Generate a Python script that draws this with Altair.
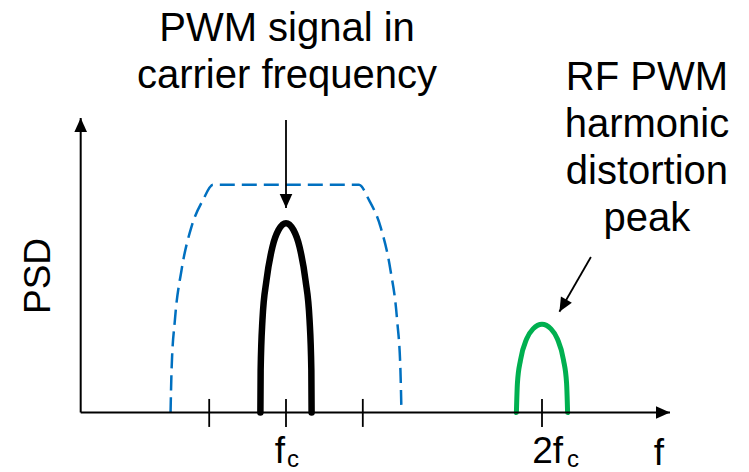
import math
import altair as alt
import pandas as pd

# ---------------- data (x in units of the carrier frequency fc, y = relative PSD) -------------
band_x = [0.549, 0.553, 0.566, 0.592, 0.631, 0.676, 0.715, 1.285, 1.324, 1.369, 1.408, 1.434, 1.447, 1.451]
band_y = [0.000, 0.144, 0.314, 0.484, 0.631, 0.722, 0.773, 0.773, 0.722, 0.631, 0.484, 0.314, 0.144, 0.000]

pwm_x = [0.900, 0.901, 0.908, 0.924, 0.947, 0.971, 1.000, 1.029, 1.053, 1.076, 1.092, 1.099, 1.100]
pwm_y = [0.000, 0.144, 0.314, 0.450, 0.562, 0.620, 0.643, 0.620, 0.562, 0.450, 0.314, 0.144, 0.000]

harm_x = [1.900, 1.904, 1.916, 1.940, 1.965, 2.000, 2.035, 2.060, 2.084, 2.096, 2.100]
harm_y = [0.000, 0.100, 0.178, 0.250, 0.284, 0.300, 0.284, 0.250, 0.178, 0.100, 0.000]

tick_x = [0.7, 1.0, 1.3, 2.0]
tick_label_x = [1.0, 2.0]
tick_label_main = ["f", "2f"]
tick_label_sub = ["c", "c"]

# axes (origin and arrow tips)
axis_x1 = [0.198, 0.198]
axis_y1 = [0.0, 0.0]
axis_x2 = [0.198, 2.5]
axis_y2 = [1.0, 0.0]

# annotation arrows
arr_x1 = [1.000, 2.191]
arr_y1 = [0.993, 0.528]
arr_x2 = [1.000, 2.068]
arr_y2 = [0.694, 0.342]

ann_x = [1.004, 2.41]
ann_y = [1.262, 1.095]
ann_text = ["PWM signal in\ncarrier frequency", "RF PWM\nharmonic\ndistortion\npeak"]

# ---------------- layout ----------------
W, H = 749, 472
X_DOM = [-0.1171875, 2.80859375]
Y_DOM = [-0.20204, 1.40068]
PX_X = W / (X_DOM[1] - X_DOM[0])
PX_Y = H / (Y_DOM[1] - Y_DOM[0])
FONT = "Liberation Sans"

xs = alt.Scale(domain=X_DOM, nice=False, zero=False)
ys = alt.Scale(domain=Y_DOM, nice=False, zero=False)


def X(f):
    return alt.X(f, type="quantitative", scale=xs, axis=None)


def Y(f):
    return alt.Y(f, type="quantitative", scale=ys, axis=None)


def head_angle(x1, y1, x2, y2):
    dx = (x2 - x1) * PX_X
    dy = -(y2 - y1) * PX_Y
    return math.degrees(math.atan2(dx, -dy)) % 360


band = pd.DataFrame({"x": band_x, "y": band_y})
pwm = pd.DataFrame({"x": pwm_x, "y": pwm_y})
harm = pd.DataFrame({"x": harm_x, "y": harm_y})
ticks = pd.DataFrame({"x": tick_x})

all_x1 = axis_x1 + arr_x1
all_y1 = axis_y1 + arr_y1
all_x2 = axis_x2 + arr_x2
all_y2 = axis_y2 + arr_y2
axes_df = pd.DataFrame({"x": axis_x1, "y": axis_y1, "x2": axis_x2, "y2": axis_y2})
arrows_df = pd.DataFrame({"x": arr_x1, "y": arr_y1, "x2": arr_x2, "y2": arr_y2})
heads_df = pd.DataFrame({
    "x": all_x2,
    "y": all_y2,
    "angle": [head_angle(a, b, c, d) for a, b, c, d in zip(all_x1, all_y1, all_x2, all_y2)],
})
ann_df = pd.DataFrame({"x": ann_x, "y": ann_y, "t": ann_text})

layers = []

layers.append(
    alt.Chart(band).mark_line(interpolate="monotone", color="#0070C0", strokeWidth=2.5,
                              strokeDash=[15, 7])
    .encode(x=X("x"), y=Y("y"))
)
layers.append(
    alt.Chart(pwm).mark_line(interpolate="monotone", color="black", strokeWidth=6.5,
                             strokeCap="round")
    .encode(x=X("x"), y=Y("y"))
)
layers.append(
    alt.Chart(harm).mark_line(interpolate="monotone", color="#00B050", strokeWidth=5,
                              strokeCap="round")
    .encode(x=X("x"), y=Y("y"))
)
layers.append(
    alt.Chart(axes_df).mark_rule(color="black", strokeWidth=2)
    .encode(x=X("x"), y=Y("y"), x2="x2:Q", y2="y2:Q")
)
layers.append(
    alt.Chart(ticks).mark_rule(color="black", strokeWidth=1.8)
    .encode(x=X("x"), y=alt.value(H - (0.046 - Y_DOM[0]) * PX_Y),
            y2=alt.value(H - (-0.049 - Y_DOM[0]) * PX_Y))
)
layers.append(
    alt.Chart(arrows_df).mark_rule(color="black", strokeWidth=1.8)
    .encode(x=X("x"), y=Y("y"), x2="x2:Q", y2="y2:Q")
)
layers.append(
    alt.Chart(heads_df).mark_point(shape="M0,0L-0.9,2L0.9,2Z", filled=True, size=196,
                                   color="black", opacity=1, strokeWidth=0)
    .encode(x=X("x"), y=Y("y"), angle=alt.Angle("angle:Q", scale=None))
)

# tick labels: main glyphs and subscripts
main_dx = [-1, 21]
sub_dx = [1, 25]
for i in range(len(tick_label_x)):
    d = pd.DataFrame({"x": [tick_label_x[i]], "y": [-0.171], "t": [tick_label_main[i]]})
    layers.append(
        alt.Chart(d).mark_text(font=FONT, fontSize=37, align="right", baseline="alphabetic",
                               dx=main_dx[i], color="black")
        .encode(x=X("x"), y=Y("y"), text="t:N")
    )
    d2 = pd.DataFrame({"x": [tick_label_x[i]], "y": [-0.185], "t": [tick_label_sub[i]]})
    layers.append(
        alt.Chart(d2).mark_text(font=FONT, fontSize=24, align="left", baseline="alphabetic",
                                dx=sub_dx[i], color="black")
        .encode(x=X("x"), y=Y("y"), text="t:N")
    )

layers.append(
    alt.Chart(pd.DataFrame({"x": [2.457], "y": [-0.178], "t": ["f"]}))
    .mark_text(font=FONT, fontSize=37, align="center", baseline="alphabetic", color="black")
    .encode(x=X("x"), y=Y("y"), text="t:N")
)
layers.append(
    alt.Chart(pd.DataFrame({"x": [0.035], "y": [0.4635], "t": ["PSD"]}))
    .mark_text(font=FONT, fontSize=37, align="center", baseline="middle", angle=270,
               color="black")
    .encode(x=X("x"), y=Y("y"), text="t:N")
)
layers.append(
    alt.Chart(ann_df)
    .mark_text(font=FONT, fontSize=40, align="center", baseline="alphabetic", lineBreak="\n",
               lineHeight=47, color="black")
    .encode(x=X("x"), y=Y("y"), text="t:N")
)

chart = (
    alt.layer(*layers)
    .properties(width=W, height=H, autosize=alt.AutoSizeParams(type="none"), padding=0)
    .configure_view(stroke=None)
)

chart.save("out.html", embed_options={"renderer": "svg", "actions": False})
